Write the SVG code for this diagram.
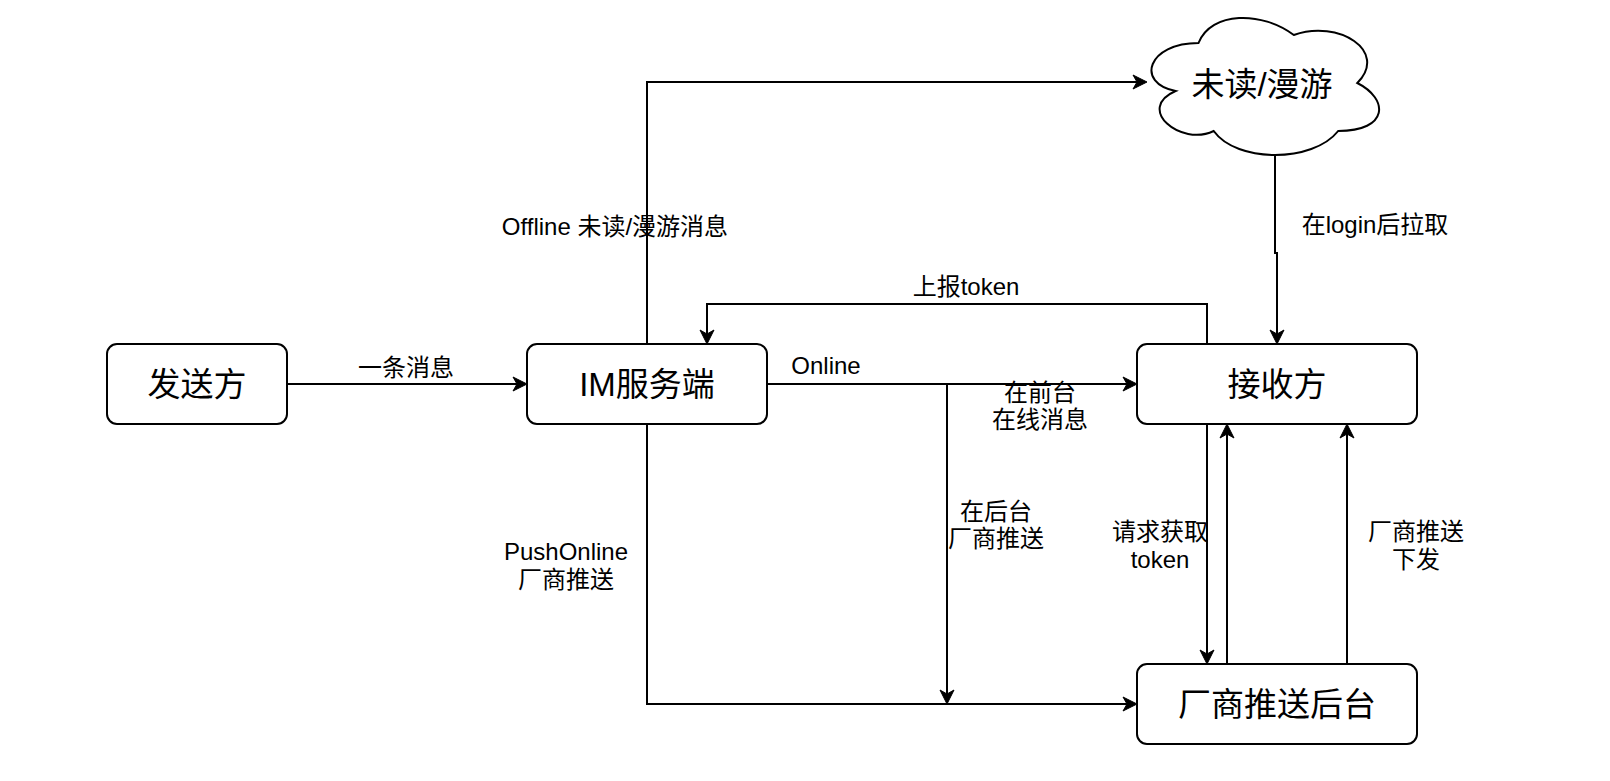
<svg xmlns="http://www.w3.org/2000/svg" width="1610" height="781" viewBox="0 0 1610 781">
  <defs>
    <marker id="arr" markerUnits="userSpaceOnUse" markerWidth="16" markerHeight="16" refX="4" refY="7" orient="auto" overflow="visible">
      <path d="M0,0 L14,7 L0,14 L4,7 Z" fill="#000" stroke="#000" stroke-width="1" stroke-linejoin="miter"/>
    </marker>
    <style>
      .node { fill: #fff; stroke: #000; stroke-width: 2; }
      .nt { font-family: "Liberation Sans", "Noto Sans CJK SC", sans-serif; font-size: 33px; fill: #000; text-anchor: middle; }
      .et { font-family: "Liberation Sans", "Noto Sans CJK SC", sans-serif; font-size: 24px; fill: #000; text-anchor: middle; }
      .edge { fill: none; stroke: #000; stroke-width: 2; marker-end: url(#arr); }
    </style>
  </defs>
  <rect width="1610" height="781" fill="#fff"/>

  <g id="connectors">
    <path class="edge" d="M287,384 H517"/>
    <path class="edge" d="M647,344 V82 H1137"/>
    <path class="edge" d="M1275,156 V253 H1277 V334"/>
    <path class="edge" d="M1207,344 V304 H707 V334"/>
    <path class="edge" d="M767,384 H1127"/>
    <path class="edge" d="M947,384 V694"/>
    <path class="edge" d="M647,424 V704 H1127"/>
    <path class="edge" d="M1207,424 V654"/>
    <path class="edge" d="M1227,664 V434"/>
    <path class="edge" d="M1347,664 V434"/>

    <text class="et" x="406" y="376">一条消息</text>
    <text class="et" x="615" y="235">Offline 未读/漫游消息</text>
    <text class="et" x="1375" y="233">在login后拉取</text>
    <text class="et" x="966" y="295">上报token</text>
    <text class="et" x="826" y="374">Online</text>
    <text class="et" x="1040" y="401">在前台</text>
    <text class="et" x="1040" y="428">在线消息</text>
    <text class="et" x="996" y="520">在后台</text>
    <text class="et" x="996" y="547">厂商推送</text>
    <text class="et" x="566" y="560">PushOnline</text>
    <text class="et" x="566" y="588">厂商推送</text>
    <text class="et" x="1160" y="540">请求获取</text>
    <text class="et" x="1160" y="568">token</text>
    <text class="et" x="1416" y="540">厂商推送</text>
    <text class="et" x="1416" y="568">下发</text>
  </g>

  <g id="sender">
    <rect class="node" x="107" y="344" width="180" height="80" rx="10" ry="10"/>
    <text class="nt" x="197" y="396">发送方</text>
  </g>
  <g id="im-server">
    <rect class="node" x="527" y="344" width="240" height="80" rx="10" ry="10"/>
    <text class="nt" x="647" y="396">IM服务端</text>
  </g>
  <g id="receiver">
    <rect class="node" x="1137" y="344" width="280" height="80" rx="10" ry="10"/>
    <text class="nt" x="1277" y="396">接收方</text>
  </g>
  <g id="vendor-push">
    <rect class="node" x="1137" y="664" width="280" height="80" rx="10" ry="10"/>
    <text class="nt" x="1277" y="716">厂商推送后台</text>
  </g>
  <g id="cloud">
    <path class="node" d="M1198.5,43 C1147.7,43 1135,83 1175.6,91 C1135,108.6 1180.7,147 1213.7,131 C1236.6,163 1312.8,163 1338.2,131 C1389,131 1389,99 1357.3,83 C1389,51 1338.2,19 1293.8,35 C1262,11 1211.2,11 1198.5,43 Z"/>
    <text class="nt" x="1262" y="96">未读/漫游</text>
  </g>
</svg>
